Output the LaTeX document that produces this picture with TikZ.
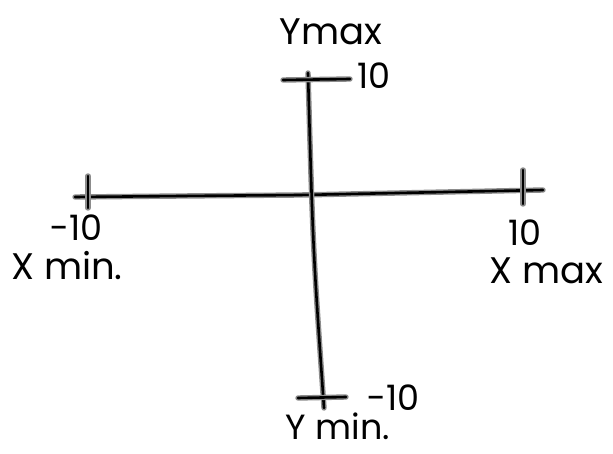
\documentclass[tikz,border=0pt]{standalone}
\usepackage{fontspec}
\setmainfont{Poppins}
\tikzset{
  ink/.style={line width=2.6pt, draw=black, line cap=round, line join=round,
    preaction={draw=black!45, line width=5.4pt, line cap=round, line join=round}},
  lbl/.style={font=\fontsize{37}{39}\selectfont, inner sep=0pt, text=black},
  num/.style={font=\fontsize{35}{37}\selectfont, inner sep=0pt, text=black}
}
\begin{document}
\begin{tikzpicture}[x=1pt,y=-1pt]
\useasboundingbox (0,0) rectangle (613,454);
% axis ends
\coordinate (xl) at (75,197);
\coordinate (xm) at (300,195);
\coordinate (xr) at (543,190);
\coordinate (yt) at (308,73);
\coordinate (yb) at (324,408);
% ticks
\coordinate (ltt) at (88,176);
\coordinate (ltb) at (88,208);
\coordinate (rtt) at (523,170);
\coordinate (rtb) at (523,204);
\coordinate (ttl) at (283,80);
\coordinate (ttr) at (350,79);
\coordinate (btl) at (298,398);
\coordinate (btr) at (346,397);
% axes
\draw[ink] (xl) .. controls (180,196) .. (xm) -- (xr);
\draw[ink] (yt) .. controls (313,250) .. (yb);
% ticks
\draw[ink] (ltt) -- (ltb);
\draw[ink] (rtt) -- (rtb);
\draw[ink] (ttl) -- (ttr);
\draw[ink] (btl) -- (btr);
% labels
\node[lbl] (ymax) at (331,32) {Ymax};
\node[num] (ytop) at (374,76) {10};
\node[num] (xlo) at (76,228) {−10};
\node[lbl] (xmin) at (67,266) {X min.};
\node[num] (xhi) at (525,233) {10};
\node[lbl] (xmax) at (546,271) {X max};
\node[num] (ylo) at (393,398) {−10};
\node[lbl, font=\fontsize{35}{37}\selectfont] (ymin) at (338,426) {Y min.};
\end{tikzpicture}
\end{document}
